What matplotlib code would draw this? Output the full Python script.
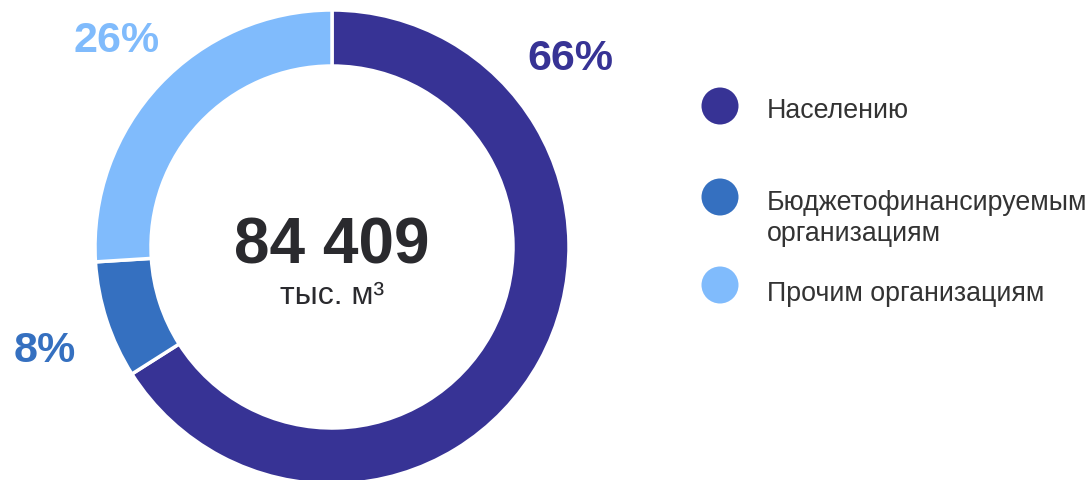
import matplotlib.pyplot as plt
from matplotlib.patches import Circle

plt.rcParams['font.family'] = ['Liberation Sans', 'DejaVu Sans']

labels = ['Населению', 'Бюджетофинансируемым\nорганизациям', 'Прочим организациям']
shares = [66, 8, 26]
colors = ['#373395', '#3570c0', '#80bbfc']
total = '84 409'
unit = 'тыс. м³'

W, H = 1091, 480
fig = plt.figure(figsize=(W / 100, H / 100), dpi=100, facecolor='white')
ax = fig.add_axes([0, 0, 1, 1])

# donut, centre in pixel coords (y up)
cx, cy, r, w = 332, 233, 237, 56
ax.pie(shares, colors=colors, startangle=90, counterclock=False,
       center=(cx, cy), radius=r, frame=True,
       wedgeprops=dict(width=w, edgecolor='white', linewidth=2.5))
ax.set_xlim(0, W)
ax.set_ylim(0, H)
ax.set_aspect('equal')
ax.axis('off')

# percentage labels outside the ring
label_pos = [(570, 421), (45, 129), (117, 439)]
for s, c, (x, y) in zip(shares, colors, label_pos):
    ax.text(x, y, f'{s}%', color=c, fontsize=31, fontweight='bold',
            ha='center', va='center')

ax.text(cx, 216, total, color='#2a2a2e', fontsize=46, fontweight='bold',
        ha='center', va='baseline')
ax.text(cx, 176, unit, color='#2a2a2e', fontsize=23, ha='center', va='baseline')

# legend
dot_y = [374, 283, 195]
text_y = [362, 270, 179]
for lab, c, yd, yt in zip(labels, colors, dot_y, text_y):
    ax.add_patch(Circle((720, yd), 18.5, color=c, lw=0))
    for k, line in enumerate(lab.split('\n')):
        ax.text(767, yt - 31 * k, line, color='#333333', fontsize=19.3,
                ha='left', va='baseline')

fig.savefig('out.png', dpi=100, facecolor='white')
